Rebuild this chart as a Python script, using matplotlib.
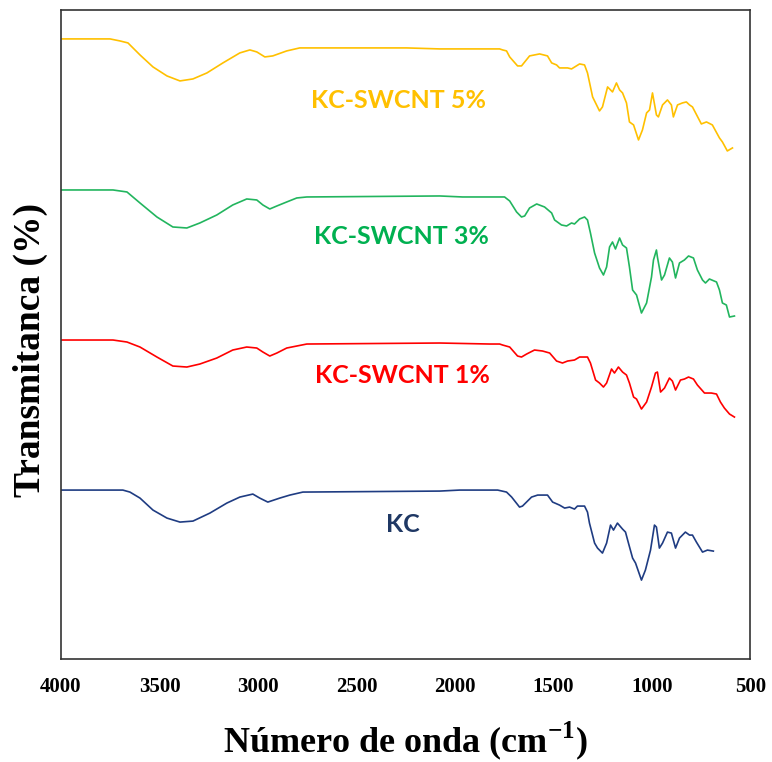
import matplotlib
matplotlib.use("Agg")
import matplotlib.pyplot as plt

# FTIR spectra, stacked (transmittance in arbitrary offset units)
wn_5 = [4000, 3751, 3701, 3660, 3599, 3533, 3462, 3396, 3330, 3259, 3178, 3092, 3041, 3006,
        2965, 2925, 2854, 2788, 2245, 2077, 1824, 1773, 1758, 1738, 1722, 1682, 1662, 1621,
        1570, 1530, 1509, 1484, 1469, 1428, 1408, 1367, 1342, 1327, 1301, 1266, 1251, 1225,
        1200, 1180, 1164, 1149, 1129, 1114, 1093, 1068, 1048, 1027, 1012, 997, 977, 967,
        946, 921, 901, 891, 870, 845, 825, 809, 794, 749, 723, 693, 657, 642, 617, 591]
t_5 = [62.0, 62.0, 61.8, 61.6, 60.4, 59.2, 58.3, 57.8, 58.0, 58.6, 59.6, 60.6, 60.9, 60.7,
       60.2, 60.3, 60.8, 61.1, 61.1, 61.0, 61.0, 61.0, 60.9, 60.8, 60.2, 59.3, 59.3, 60.3,
       60.5, 60.3, 59.6, 59.4, 59.1, 59.1, 59.0, 59.5, 59.4, 58.6, 56.2, 54.8, 55.2, 57.2,
       56.7, 57.6, 56.9, 56.6, 55.6, 53.7, 53.4, 51.9, 52.9, 54.6, 54.9, 56.6, 54.4, 54.2,
       55.4, 55.9, 55.4, 54.2, 55.4, 55.6, 55.7, 55.4, 55.2, 53.5, 53.7, 53.4, 52.1, 51.7,
       50.8, 51.1]

wn_3 = [4000, 3736, 3665, 3599, 3513, 3432, 3361, 3295, 3209, 3128, 3057, 3006, 2975, 2940,
        2904, 2854, 2803, 2752, 2077, 1961, 1773, 1748, 1722, 1687, 1662, 1646, 1621, 1585,
        1545, 1509, 1494, 1459, 1433, 1408, 1393, 1367, 1342, 1327, 1312, 1291, 1266, 1246,
        1230, 1215, 1200, 1185, 1164, 1149, 1129, 1114, 1098, 1078, 1053, 1027, 1002, 992,
        977, 972, 951, 936, 911, 896, 880, 860, 835, 814, 789, 769, 743, 728, 708, 672,
        657, 642, 622, 606, 581]
t_3 = [46.9, 46.9, 46.7, 45.6, 44.2, 43.2, 43.1, 43.6, 44.4, 45.4, 46.0, 45.9, 45.4, 45.0,
       45.3, 45.7, 46.1, 46.2, 46.3, 46.2, 46.2, 46.2, 45.8, 44.7, 44.2, 44.3, 45.1, 45.5,
       45.2, 44.6, 43.9, 43.4, 43.3, 43.6, 43.5, 44.0, 44.2, 43.9, 42.6, 40.6, 39.1, 38.4,
       39.2, 41.2, 41.7, 41.0, 42.1, 41.4, 41.1, 39.2, 36.9, 36.4, 34.6, 35.6, 38.2, 39.9,
       40.9, 40.2, 37.9, 38.4, 40.1, 39.7, 38.1, 39.6, 39.9, 40.3, 40.1, 38.9, 37.9, 37.6,
       38.0, 37.7, 36.9, 35.6, 35.4, 34.2, 34.3]

wn_1 = [4000, 3736, 3665, 3599, 3513, 3432, 3361, 3295, 3209, 3128, 3057, 3006, 2975, 2940,
        2904, 2854, 2803, 2752, 2077, 1824, 1773, 1758, 1722, 1682, 1662, 1636, 1596, 1555,
        1519, 1484, 1454, 1428, 1393, 1367, 1327, 1312, 1286, 1266, 1246, 1230, 1205, 1190,
        1170, 1149, 1129, 1114, 1093, 1078, 1053, 1027, 1002, 982, 972, 956, 936, 911,
        896, 880, 855, 835, 814, 789, 769, 733, 698, 672, 652, 632, 606, 581]
t_1 = [31.9, 31.9, 31.7, 31.2, 30.2, 29.3, 29.2, 29.5, 30.1, 30.9, 31.2, 31.1, 30.7, 30.3,
       30.6, 31.1, 31.3, 31.5, 31.6, 31.5, 31.5, 31.4, 31.2, 30.3, 30.2, 30.5, 30.9, 30.8,
       30.6, 29.8, 29.6, 29.8, 29.9, 30.2, 30.2, 29.6, 27.9, 27.6, 27.2, 27.6, 29.0, 28.6,
       29.2, 28.7, 28.4, 27.6, 26.2, 26.0, 25.0, 25.7, 27.2, 28.6, 28.7, 26.7, 27.1, 28.1,
       27.8, 26.9, 27.9, 28.0, 28.2, 28.0, 27.4, 26.6, 26.6, 26.5, 25.7, 25.1, 24.5, 24.2]

wn_kc = [4000, 3686, 3650, 3599, 3533, 3462, 3396, 3330, 3244, 3158, 3092, 3026, 2991, 2950,
         2889, 2838, 2772, 2077, 1976, 1783, 1738, 1712, 1672, 1657, 1611, 1580, 1530, 1504,
         1469, 1443, 1418, 1393, 1378, 1342, 1327, 1317, 1291, 1276, 1251, 1230, 1210, 1195,
         1175, 1149, 1134, 1119, 1098, 1083, 1053, 1033, 1007, 987, 977, 962, 946, 921,
         901, 880, 860, 830, 809, 794, 774, 743, 718, 688]
t_kc = [16.9, 16.9, 16.7, 16.1, 14.9, 14.1, 13.7, 13.8, 14.6, 15.6, 16.2, 16.5, 16.1, 15.7,
        16.1, 16.4, 16.7, 16.8, 16.9, 16.9, 16.7, 16.2, 15.2, 15.3, 16.2, 16.4, 16.4, 15.7,
        15.4, 15.1, 15.2, 15.0, 15.3, 15.3, 14.7, 13.6, 11.6, 11.1, 10.6, 11.6, 13.4, 12.9,
        13.6, 13.0, 12.7, 11.6, 10.1, 9.6, 7.9, 8.9, 10.9, 13.4, 13.2, 11.1, 11.6, 12.7,
        12.6, 11.1, 12.1, 12.7, 12.4, 12.4, 11.7, 10.7, 10.9, 10.8]

labels = ["KC-SWCNT 5%", "KC-SWCNT 3%", "KC-SWCNT 1%", "KC"]
line_colors = ["#FFC000", "#22B55E", "#FF0000", "#1F3C82"]
text_colors = ["#FFC000", "#00B050", "#FF0000", "#1F3864"]
label_pos = [(2285, 55.8), (2270, 42.2), (2265, 28.4), (2265, 13.5)]

fig = plt.figure(figsize=(7.72, 7.62), dpi=100)
ax = fig.add_axes([0.079, 0.135, 0.893, 0.852])

series = [(wn_5, t_5), (wn_3, t_3), (wn_1, t_1), (wn_kc, t_kc)]
for (w, t), c in zip(series, line_colors):
    ax.plot(w, t, color=c, lw=1.2)

for lab, (x, y), c in zip(labels, label_pos, text_colors):
    ax.text(x, y, lab, color=c, fontsize=18, fontweight="bold", family="Lato",
            ha="center", va="center")

ax.set_xlim(4000, 500)
ax.set_ylim(0, 64.9)
ax.set_xticks([4000, 3500, 3000, 2500, 2000, 1500, 1000, 500])
ax.set_yticks([])
ax.tick_params(axis="x", length=0, pad=13)
for lbl in ax.get_xticklabels():
    lbl.set_fontfamily("Liberation Serif")
    lbl.set_fontweight("bold")
    lbl.set_fontsize(15)
for s in ax.spines.values():
    s.set_color("#333333")
    s.set_linewidth(1.2)

ax.set_xlabel("Número de onda (cm$^{\\mathregular{-1}}$)", family="Liberation Serif",
              fontweight="bold", fontsize=26, labelpad=16)
ax.set_ylabel("Transmitanca (%)", family="Liberation Serif", fontweight="bold",
              fontsize=27)
ax.yaxis.set_label_coords(-0.019, 0.476)

fig.savefig("out.png", dpi=100)
